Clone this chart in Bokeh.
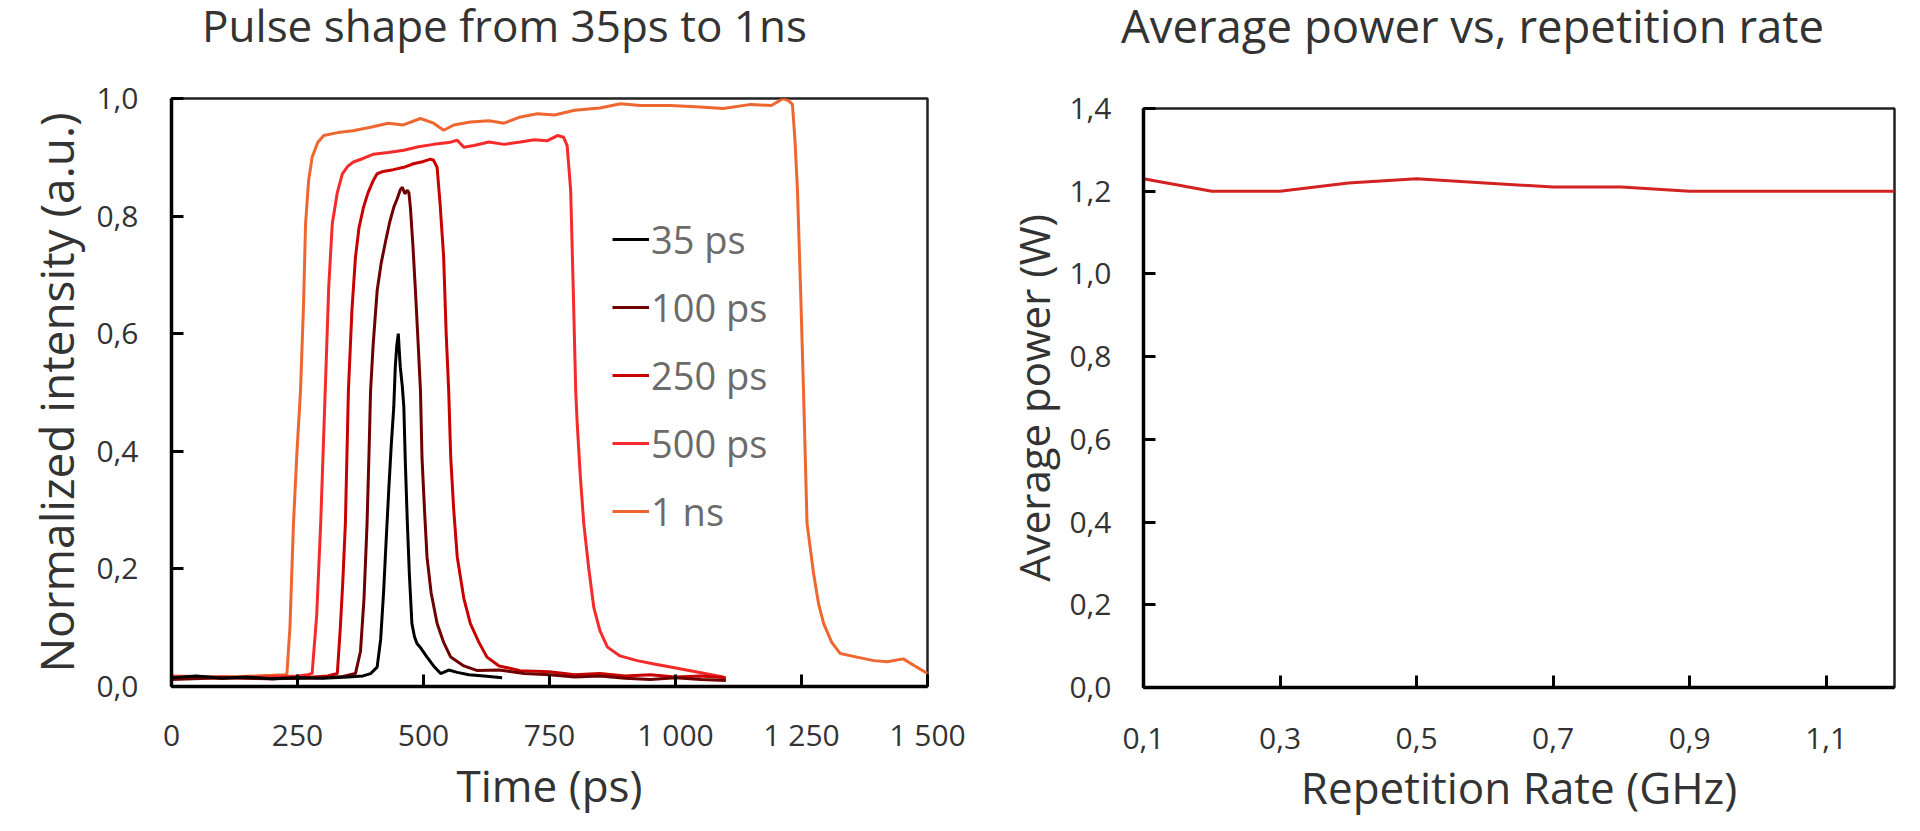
from bokeh.plotting import figure
from bokeh.layouts import row, column
from bokeh.models import (Legend, LegendItem, FixedTicker, CustomJSTickFormatter, Range1d, Spacer)
from bokeh.core.properties import value
from bokeh.embed import file_html
from bokeh.resources import INLINE

FONT = "Open Sans"

# ---------------- data: pulse shapes (time in ps, normalized intensity) ----------------
t_35ps = [0, 50, 100, 150, 200, 250, 300, 350, 380, 395, 408, 415, 421, 426, 431, 436,
          441, 444, 447, 450, 452, 454, 458, 461, 464, 468, 472, 477, 482, 487, 495, 507,
          520, 534, 550, 567, 590, 620, 656]
i_35ps = [0.015, 0.018, 0.014, 0.016, 0.013, 0.015, 0.014, 0.016, 0.018, 0.022, 0.033, 0.08,
          0.163, 0.25, 0.333, 0.41, 0.475, 0.543, 0.58, 0.60, 0.57, 0.543, 0.51, 0.475, 0.38,
          0.277, 0.19, 0.107, 0.085, 0.073, 0.065, 0.05, 0.035, 0.022, 0.028, 0.024, 0.02,
          0.018, 0.015]

t_100ps = [0, 100, 200, 300, 340, 365, 375, 382, 388, 392, 395, 400, 408, 416, 425, 433, 441,
           448, 454, 458, 463, 468, 471, 474, 479, 484, 489, 494, 497, 502, 507, 515, 527,
           540, 554, 580, 607, 650, 700, 750, 800, 850, 900, 950, 1000, 1050, 1100]
i_100ps = [0.012, 0.015, 0.013, 0.015, 0.017, 0.022, 0.06, 0.15, 0.277, 0.4, 0.503, 0.58,
           0.673, 0.72, 0.758, 0.79, 0.815, 0.83, 0.845, 0.849, 0.838, 0.844, 0.84, 0.815,
           0.75, 0.673, 0.59, 0.503, 0.39, 0.3, 0.22, 0.16, 0.107, 0.075, 0.05, 0.035, 0.027,
           0.028, 0.022, 0.02, 0.016, 0.018, 0.014, 0.012, 0.015, 0.012, 0.01]

t_250ps = [0, 100, 200, 280, 310, 329, 335, 340, 345, 351, 358, 365, 372, 381, 390, 400, 408,
           420, 440, 461, 480, 500, 514, 520, 527, 533, 540, 545, 550, 554, 560, 567, 580,
           593, 610, 626, 650, 692, 750, 800, 850, 900, 950, 1000, 1050, 1100]
i_250ps = [0.014, 0.016, 0.013, 0.016, 0.018, 0.022, 0.1, 0.18, 0.277, 0.503, 0.64, 0.73,
           0.78, 0.815, 0.84, 0.86, 0.872, 0.876, 0.879, 0.883, 0.889, 0.893, 0.897, 0.895,
           0.883, 0.82, 0.73, 0.6, 0.503, 0.39, 0.3, 0.22, 0.15, 0.107, 0.075, 0.05, 0.035,
           0.027, 0.025, 0.02, 0.022, 0.018, 0.02, 0.016, 0.018, 0.015]

t_500ps = [0, 100, 200, 250, 270, 279, 288, 296, 305, 312, 319, 329, 339, 350, 361, 380, 400,
           430, 461, 490, 520, 550, 567, 580, 600, 630, 660, 692, 720, 745, 766, 778, 785,
           792, 797, 802, 805, 811, 818, 828, 838, 850, 865, 890, 924, 960, 990, 1040, 1095]
i_500ps = [0.016, 0.014, 0.017, 0.018, 0.02, 0.022, 0.12, 0.277, 0.503, 0.68, 0.787, 0.84,
           0.872, 0.885, 0.892, 0.898, 0.905, 0.908, 0.912, 0.918, 0.922, 0.925, 0.929, 0.917,
           0.92, 0.926, 0.922, 0.926, 0.93, 0.928, 0.937, 0.934, 0.92, 0.844, 0.68, 0.503,
           0.447, 0.36, 0.277, 0.2, 0.134, 0.095, 0.067, 0.052, 0.044, 0.038, 0.033, 0.025,
           0.016]

t_1ns = [0, 100, 200, 225, 229, 235, 242, 249, 256, 262, 266, 272, 279, 290, 302, 330, 360,
         395, 430, 460, 494, 520, 540, 560, 593, 630, 660, 690, 726, 760, 800, 850, 891, 930,
         990, 1040, 1095, 1150, 1190, 1214, 1225, 1232, 1237, 1242, 1248, 1254, 1261, 1274,
         1284, 1294, 1310, 1327, 1360, 1393, 1420, 1452, 1475, 1500]
i_1ns = [0.018, 0.016, 0.019, 0.02, 0.022, 0.1, 0.277, 0.4, 0.503, 0.65, 0.787, 0.86, 0.9,
         0.925, 0.937, 0.942, 0.945, 0.951, 0.958, 0.955, 0.966, 0.958, 0.946, 0.955, 0.96,
         0.962, 0.958, 0.968, 0.974, 0.972, 0.98, 0.984, 0.991, 0.988, 0.988, 0.986, 0.983,
         0.99, 0.988, 1.0, 0.996, 0.99, 0.93, 0.844, 0.68, 0.503, 0.277, 0.192, 0.14, 0.107,
         0.075, 0.056, 0.05, 0.044, 0.042, 0.047, 0.035, 0.022]

pulse_labels = ["35 ps", "100 ps", "250 ps", "500 ps", "1 ns"]
pulse_colors = ["#000000", "#6e0000", "#c80000", "#f52a2a", "#ee6630"]
pulse_t = [t_35ps, t_100ps, t_250ps, t_500ps, t_1ns]
pulse_i = [i_35ps, i_100ps, i_250ps, i_500ps, i_1ns]

time_ticks = [0, 250, 500, 750, 1000, 1250, 1500]
intensity_ticks = [0.0, 0.2, 0.4, 0.6, 0.8, 1.0]

# ---------------- data: average power vs repetition rate ----------------
rep_rate_ghz = [0.1, 0.2, 0.3, 0.4, 0.5, 0.6, 0.7, 0.8, 0.9, 1.0, 1.1, 1.2]
avg_power_w = [1.23, 1.20, 1.20, 1.22, 1.23, 1.22, 1.21, 1.21, 1.20, 1.20, 1.20, 1.20]
rate_ticks = [0.1, 0.3, 0.5, 0.7, 0.9, 1.1]
power_ticks = [0.0, 0.2, 0.4, 0.6, 0.8, 1.0, 1.2, 1.4]

titles = ["Pulse shape from 35ps to 1ns", "Average power vs, repetition rate"]

comma_fmt = CustomJSTickFormatter(code="return tick.toFixed(1).replace('.', ',');")
thousands_fmt = CustomJSTickFormatter(code="""
const s = Math.round(tick).toString();
return s.length > 3 ? s.slice(0, s.length - 3) + ' ' + s.slice(s.length - 3) : s;
""")

W1, W2 = 1000, 914
TH = 70
PH1, PH2 = 756, 747


def style(p, xfmt, yfmt, xticks, yticks):
    p.xgrid.visible = False
    p.ygrid.visible = False
    p.outline_line_color = "#222222"
    p.outline_line_width = 2.5
    for ax, fmt, ticks in ((p.xaxis[0], xfmt, xticks), (p.yaxis[0], yfmt, yticks)):
        ax.ticker = FixedTicker(ticks=ticks)
        ax.formatter = fmt
        ax.axis_line_color = "black"
        ax.axis_line_width = 3.5
        ax.major_tick_line_color = "black"
        ax.major_tick_line_width = 3
        ax.major_tick_in = 12
        ax.major_tick_out = 0
        ax.minor_tick_line_color = None
        ax.major_label_text_font = FONT
        ax.major_label_text_font_size = "30px"
        ax.major_label_text_color = "#333333"
        ax.axis_label_text_font = FONT
        ax.axis_label_text_font_size = "44px"
        ax.axis_label_text_font_style = "normal"
        ax.axis_label_text_color = "#333333"


# ---------------- title strip ----------------
t_all = figure(width=W1 + W2, height=TH, x_range=Range1d(0, W1 + W2), y_range=Range1d(0, TH),
               output_backend="svg", toolbar_location=None, min_border=0,
               x_axis_type=None, y_axis_type=None)
t_all.outline_line_color = None
t_all.text(x=[504], y=[46], text=[titles[0]], text_align="center", text_baseline="alphabetic",
           text_font=value(FONT), text_font_size="44px", text_color="#333333")
t_all.text(x=[1472], y=[46], text=[titles[1]], text_align="center", text_baseline="alphabetic",
           text_font=value(FONT), text_font_size="45.5px", text_color="#333333")

# ---------------- left figure ----------------
p1 = figure(width=W1, height=PH1, output_backend="svg", toolbar_location=None,
            x_range=Range1d(0, 1500), y_range=Range1d(0, 1.0),
            min_border_left=171, min_border_right=73, min_border_top=28, min_border_bottom=140)
style(p1, thousands_fmt, comma_fmt, time_ticks, intensity_ticks)
p1.xaxis.axis_label = "Time (ps)"
p1.yaxis.axis_label = "Normalized intensity (a.u.)"
p1.yaxis.axis_label_text_font_size = "46px"
p1.xaxis.major_label_standoff = 27
p1.xaxis.axis_label_standoff = -3
p1.yaxis.major_label_standoff = 33
p1.yaxis.axis_label_standoff = 6

renderers = []
for k in range(len(pulse_t) - 1, -1, -1):
    r = p1.line(pulse_t[k], pulse_i[k], line_color=pulse_colors[k], line_width=3)
    renderers.append((k, r))
renderers = [r for k, r in sorted(renderers, key=lambda kr: kr[0])]

legend = Legend(items=[LegendItem(label=lab, renderers=[r]) for lab, r in zip(pulse_labels, renderers)],
                location=(441, 149), orientation="vertical",
                glyph_width=37, glyph_height=52, label_height=52, spacing=16,
                padding=0, margin=0, label_standoff=2,
                border_line_color=None, background_fill_alpha=0,
                label_text_font=FONT, label_text_font_size="38px",
                label_text_color="#6b6b6b")
p1.add_layout(legend)

# ---------------- right figure ----------------
p2 = figure(width=W2, height=PH2, output_backend="svg", toolbar_location=None,
            x_range=Range1d(0.1, 1.2), y_range=Range1d(0, 1.4),
            min_border_left=143, min_border_right=20, min_border_top=28, min_border_bottom=140)
style(p2, comma_fmt, comma_fmt, rate_ticks, power_ticks)
p2.xaxis.axis_label = "Repetition Rate (GHz)"
p2.yaxis.axis_label = "Average power (W)"
p2.yaxis.axis_label_text_font_size = "42px"
p2.xaxis.major_label_standoff = 40
p2.xaxis.axis_label_standoff = 5
p2.yaxis.major_label_standoff = 32
p2.yaxis.axis_label_standoff = 4
p2.line(rep_rate_ghz, avg_power_w, line_color="#d22222", line_width=3)

layout = column(t_all, row(p1, column(Spacer(width=W2, height=10), p2)))
open("out.html", "w").write(file_html(layout, INLINE))
